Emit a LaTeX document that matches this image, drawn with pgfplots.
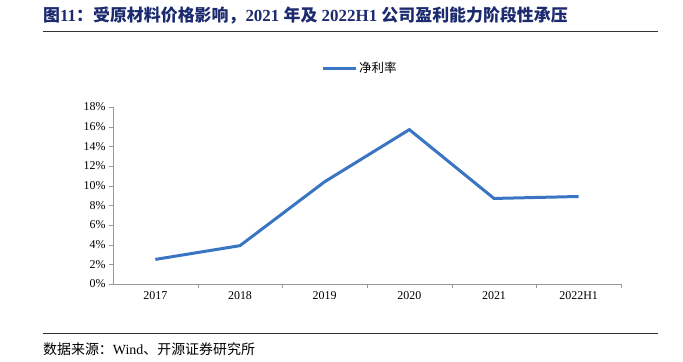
\documentclass[border=0pt]{standalone}
\usepackage{fontspec}
\setmainfont{Liberation Serif}
\newfontfamily\cjk{Noto Sans CJK SC}
\usepackage{pgfplots}
\pgfplotsset{compat=1.18}
\definecolor{navy}{RGB}{28,42,110}
\definecolor{lineblue}{RGB}{58,117,196}
\begin{document}
\begin{tikzpicture}
\path[use as bounding box] (0,0) rectangle (683bp,-362bp);
\node[anchor=west, text=navy, inner sep=0, font=\fontsize{17}{20}\selectfont\bfseries] at (43bp,-15bp)
  {{\cjk 图}11{\cjk ：受原材料价格影响，}2021 {\cjk 年及} 2022H1 {\cjk 公司盈利能力阶段性承压}};
\draw[black!80, line width=0.8bp] (43bp,-31bp) -- (658bp,-31bp);
\draw[black!80, line width=0.8bp] (43bp,-333bp) -- (658bp,-333bp);
\node[anchor=west, inner sep=0, font=\fontsize{14}{16}\selectfont] at (43bp,-349bp)
  {{\cjk 数据来源：}Wind{\cjk 、开源证券研究所}};
\begin{axis}[
  at={(113bp,-284bp)}, anchor=south west,
  width=508bp, height=177bp, scale only axis,
  xmin=-0.5, xmax=5.5, ymin=0, ymax=18,
  axis lines=left, axis line style={-, color=gray!80},
  xtick={0,...,5}, xticklabels={2017,2018,2019,2020,2021,2022H1},
  major x tick style={draw=none},
  minor xtick={0.5,1.5,2.5,3.5,4.5,5.5},
  ytick={0,2,...,18},
  tick align=outside, tick style={gray!80},
  major tick length=4bp, minor tick length=4bp,
  yticklabel={\pgfmathprintnumber{\tick}\%},
  /pgf/number format/assume math mode=true,
  tick label style={font=\fontsize{12}{14}\selectfont, black},
  legend style={at={(0.486,1.22)}, anchor=center, draw=none, fill=none,
    font=\cjk\fontsize{12.5}{14}\selectfont},
  legend image code/.code={\draw[#1] (0bp,0bp) -- (33bp,0bp);},
]
\addplot[lineblue, line width=3bp] coordinates {(0,2.5)(1,3.9)(2,10.4)(3,15.7)(4,8.7)(5,8.9)};
\legend{净利率}
\end{axis}
\end{tikzpicture}
\end{document}
